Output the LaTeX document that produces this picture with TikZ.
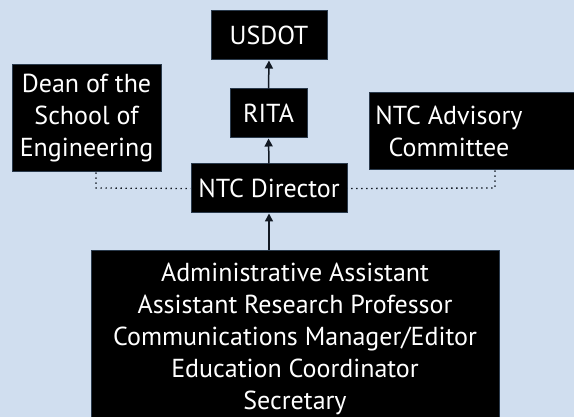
\documentclass[tikz,border=0pt]{standalone}
\usepackage{fontspec}
\setmainfont{PT Sans}
\usetikzlibrary{arrows.meta}
\definecolor{bg}{HTML}{D0DEEF}
\definecolor{edge}{HTML}{2A3A4C}
\definecolor{wire}{HTML}{111822}
\begin{document}
\begin{tikzpicture}[x=1pt,y=-1pt,
  box/.style={draw=edge, line width=1pt, fill=black, text=white, inner sep=0pt,
    align=center, font=\fontsize{26}{32}\selectfont},
  up/.style={draw=wire, line width=1.5pt, -{Triangle[length=8pt,width=8pt]}},
  dots/.style={draw=wire, line width=1.3pt, dash pattern=on 1.3pt off 3.7pt}]
\fill[bg] (0,0) rectangle (574,417);
\useasboundingbox (0,0) rectangle (574,417);
\node[box, minimum width=116, minimum height=49] (usdot) at (269,35.5) {USDOT};
\node[box, minimum width=77, minimum height=49] (rita) at (268.5,113.5) {RITA};
\node[box, minimum width=156, minimum height=49] (dir) at (269,188.5) {NTC Director};
\node[box, minimum width=149, minimum height=107] (dean) at (86.5,118.5) {Dean of the\\School of\\Engineering};
\node[box, minimum width=215, minimum height=77] (adv) at (476.5,131.5) {};
\node[text=white, align=center, font=\fontsize{26}{32}\selectfont] (advtext) at (449,131.5) {NTC Advisory\\Committee};
\node[box, minimum width=408, minimum height=176] (staff) at (295,339) {Administrative Assistant\\Assistant Research Professor\\Communications Manager/Editor\\Education Coordinator\\Secretary};
\coordinate (dl) at (96,188);
\coordinate (dr) at (495,188);
\draw[up] (rita.north) -- (usdot.south);
\draw[up] (dir.north) -- (rita.south);
\draw[up] (staff.north -| dir.south) -- (dir.south);
\draw[dots] (dean.south -| dl) -- (dl) -- (dir.west);
\draw[dots] (adv.south -| dr) -- (dr) -- (dir.east);
\end{tikzpicture}
\end{document}
